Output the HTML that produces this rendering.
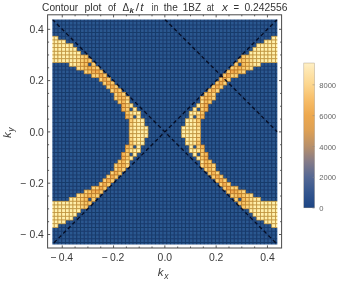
<!DOCTYPE html>
<html><head><meta charset="utf-8"><title>Contour plot</title>
<style>html,body{margin:0;padding:0;background:#fff}body{width:342px;height:283px;overflow:hidden}</style></head>
<body>
<svg width="342" height="283" viewBox="0 0 342 283" style="display:block">
<rect width="342" height="283" fill="#fff"/>
<defs><filter id="bl" x="-2%" y="-2%" width="104%" height="104%"><feGaussianBlur stdDeviation="0.75"/></filter><clipPath id="cp"><rect x="52.35" y="19.4" width="225.00000000000003" height="225.0"/></clipPath></defs>
<g clip-path="url(#cp)"><g filter="url(#bl)">
<rect x="49.35" y="16.4" width="231.00000000000003" height="231.0" fill="#2b5890"/>
<path d="M50.475 16.4V247.4M54.225 16.4V247.4M57.975 16.4V247.4M61.725 16.4V247.4M65.475 16.4V247.4M69.225 16.4V247.4M72.975 16.4V247.4M76.725 16.4V247.4M80.475 16.4V247.4M84.225 16.4V247.4M87.975 16.4V247.4M91.725 16.4V247.4M95.475 16.4V247.4M99.225 16.4V247.4M102.975 16.4V247.4M106.725 16.4V247.4M110.475 16.4V247.4M114.225 16.4V247.4M117.975 16.4V247.4M121.725 16.4V247.4M125.475 16.4V247.4M129.225 16.4V247.4M132.975 16.4V247.4M136.725 16.4V247.4M140.475 16.4V247.4M144.225 16.4V247.4M147.975 16.4V247.4M151.725 16.4V247.4M155.475 16.4V247.4M159.225 16.4V247.4M162.975 16.4V247.4M166.725 16.4V247.4M170.475 16.4V247.4M174.225 16.4V247.4M177.975 16.4V247.4M181.725 16.4V247.4M185.475 16.4V247.4M189.225 16.4V247.4M192.975 16.4V247.4M196.725 16.4V247.4M200.475 16.4V247.4M204.225 16.4V247.4M207.975 16.4V247.4M211.725 16.4V247.4M215.475 16.4V247.4M219.225 16.4V247.4M222.975 16.4V247.4M226.725 16.4V247.4M230.475 16.4V247.4M234.225 16.4V247.4M237.975 16.4V247.4M241.725 16.4V247.4M245.475 16.4V247.4M249.225 16.4V247.4M252.975 16.4V247.4M256.725 16.4V247.4M260.475 16.4V247.4M264.225 16.4V247.4M267.975 16.4V247.4M271.725 16.4V247.4M275.475 16.4V247.4M279.225 16.4V247.4M49.35 17.525H280.35M49.35 21.275H280.35M49.35 25.025H280.35M49.35 28.775H280.35M49.35 32.525H280.35M49.35 36.275H280.35M49.35 40.025H280.35M49.35 43.775H280.35M49.35 47.525H280.35M49.35 51.275H280.35M49.35 55.025H280.35M49.35 58.775H280.35M49.35 62.525H280.35M49.35 66.275H280.35M49.35 70.025H280.35M49.35 73.775H280.35M49.35 77.525H280.35M49.35 81.275H280.35M49.35 85.025H280.35M49.35 88.775H280.35M49.35 92.525H280.35M49.35 96.275H280.35M49.35 100.025H280.35M49.35 103.775H280.35M49.35 107.525H280.35M49.35 111.275H280.35M49.35 115.025H280.35M49.35 118.775H280.35M49.35 122.525H280.35M49.35 126.275H280.35M49.35 130.025H280.35M49.35 133.775H280.35M49.35 137.525H280.35M49.35 141.275H280.35M49.35 145.025H280.35M49.35 148.775H280.35M49.35 152.525H280.35M49.35 156.275H280.35M49.35 160.025H280.35M49.35 163.775H280.35M49.35 167.525H280.35M49.35 171.275H280.35M49.35 175.025H280.35M49.35 178.775H280.35M49.35 182.525H280.35M49.35 186.275H280.35M49.35 190.025H280.35M49.35 193.775H280.35M49.35 197.525H280.35M49.35 201.275H280.35M49.35 205.025H280.35M49.35 208.775H280.35M49.35 212.525H280.35M49.35 216.275H280.35M49.35 220.025H280.35M49.35 223.775H280.35M49.35 227.525H280.35M49.35 231.275H280.35M49.35 235.025H280.35M49.35 238.775H280.35M49.35 242.525H280.35M49.35 246.275H280.35" stroke="#00103a" stroke-opacity="0.42" stroke-width="1.1" fill="none"/>
<rect x="50.475" y="36.275" width="3.75" height="3.75" fill="#fff0ac" stroke="#c2953e" stroke-width="0.75"/>
<rect x="54.225" y="36.275" width="3.75" height="3.75" fill="#fff0ac" stroke="#c2953e" stroke-width="0.75"/>
<rect x="271.725" y="36.275" width="3.75" height="3.75" fill="#fff0ac" stroke="#c2953e" stroke-width="0.75"/>
<rect x="275.475" y="36.275" width="3.75" height="3.75" fill="#fff0ac" stroke="#c2953e" stroke-width="0.75"/>
<rect x="50.475" y="40.025" width="3.75" height="3.75" fill="#fff0ac" stroke="#c2953e" stroke-width="0.75"/>
<rect x="54.225" y="40.025" width="3.75" height="3.75" fill="#fff0ac" stroke="#c2953e" stroke-width="0.75"/>
<rect x="57.975" y="40.025" width="3.75" height="3.75" fill="#fff0ac" stroke="#c2953e" stroke-width="0.75"/>
<rect x="61.725" y="40.025" width="3.75" height="3.75" fill="#fff0ac" stroke="#c2953e" stroke-width="0.75"/>
<rect x="264.225" y="40.025" width="3.75" height="3.75" fill="#fff0ac" stroke="#c2953e" stroke-width="0.75"/>
<rect x="267.975" y="40.025" width="3.75" height="3.75" fill="#fff0ac" stroke="#c2953e" stroke-width="0.75"/>
<rect x="271.725" y="40.025" width="3.75" height="3.75" fill="#fff0ac" stroke="#c2953e" stroke-width="0.75"/>
<rect x="275.475" y="40.025" width="3.75" height="3.75" fill="#fff0ac" stroke="#c2953e" stroke-width="0.75"/>
<rect x="50.475" y="43.775" width="3.75" height="3.75" fill="#fff0ac" stroke="#c2953e" stroke-width="0.75"/>
<rect x="54.225" y="43.775" width="3.75" height="3.75" fill="#fff0ac" stroke="#c2953e" stroke-width="0.75"/>
<rect x="57.975" y="43.775" width="3.75" height="3.75" fill="#fff0ac" stroke="#c2953e" stroke-width="0.75"/>
<rect x="61.725" y="43.775" width="3.75" height="3.75" fill="#fff0ac" stroke="#c2953e" stroke-width="0.75"/>
<rect x="65.475" y="43.775" width="3.75" height="3.75" fill="#fff0ac" stroke="#c2953e" stroke-width="0.75"/>
<rect x="69.225" y="43.775" width="3.75" height="3.75" fill="#fff0ac" stroke="#c2953e" stroke-width="0.75"/>
<rect x="256.725" y="43.775" width="3.75" height="3.75" fill="#fff0ac" stroke="#c2953e" stroke-width="0.75"/>
<rect x="260.475" y="43.775" width="3.75" height="3.75" fill="#fff0ac" stroke="#c2953e" stroke-width="0.75"/>
<rect x="264.225" y="43.775" width="3.75" height="3.75" fill="#fff0ac" stroke="#c2953e" stroke-width="0.75"/>
<rect x="267.975" y="43.775" width="3.75" height="3.75" fill="#fff0ac" stroke="#c2953e" stroke-width="0.75"/>
<rect x="271.725" y="43.775" width="3.75" height="3.75" fill="#fff0ac" stroke="#c2953e" stroke-width="0.75"/>
<rect x="275.475" y="43.775" width="3.75" height="3.75" fill="#fff0ac" stroke="#c2953e" stroke-width="0.75"/>
<rect x="50.475" y="47.525" width="3.75" height="3.75" fill="#fff0ac" stroke="#c2953e" stroke-width="0.75"/>
<rect x="54.225" y="47.525" width="3.75" height="3.75" fill="#fff0ac" stroke="#c2953e" stroke-width="0.75"/>
<rect x="57.975" y="47.525" width="3.75" height="3.75" fill="#fff0ac" stroke="#c2953e" stroke-width="0.75"/>
<rect x="61.725" y="47.525" width="3.75" height="3.75" fill="#fff0ac" stroke="#c2953e" stroke-width="0.75"/>
<rect x="65.475" y="47.525" width="3.75" height="3.75" fill="#fff0ac" stroke="#c2953e" stroke-width="0.75"/>
<rect x="69.225" y="47.525" width="3.75" height="3.75" fill="#fff0ac" stroke="#c2953e" stroke-width="0.75"/>
<rect x="72.975" y="47.525" width="3.75" height="3.75" fill="#fff0ac" stroke="#c2953e" stroke-width="0.75"/>
<rect x="252.975" y="47.525" width="3.75" height="3.75" fill="#fff0ac" stroke="#c2953e" stroke-width="0.75"/>
<rect x="256.725" y="47.525" width="3.75" height="3.75" fill="#fff0ac" stroke="#c2953e" stroke-width="0.75"/>
<rect x="260.475" y="47.525" width="3.75" height="3.75" fill="#fff0ac" stroke="#c2953e" stroke-width="0.75"/>
<rect x="264.225" y="47.525" width="3.75" height="3.75" fill="#fff0ac" stroke="#c2953e" stroke-width="0.75"/>
<rect x="267.975" y="47.525" width="3.75" height="3.75" fill="#fff0ac" stroke="#c2953e" stroke-width="0.75"/>
<rect x="271.725" y="47.525" width="3.75" height="3.75" fill="#fff0ac" stroke="#c2953e" stroke-width="0.75"/>
<rect x="275.475" y="47.525" width="3.75" height="3.75" fill="#fff0ac" stroke="#c2953e" stroke-width="0.75"/>
<rect x="50.475" y="51.275" width="3.75" height="3.75" fill="#fff0ac" stroke="#c2953e" stroke-width="0.75"/>
<rect x="54.225" y="51.275" width="3.75" height="3.75" fill="#fff0ac" stroke="#c2953e" stroke-width="0.75"/>
<rect x="57.975" y="51.275" width="3.75" height="3.75" fill="#fff0ac" stroke="#c2953e" stroke-width="0.75"/>
<rect x="61.725" y="51.275" width="3.75" height="3.75" fill="#fff0ac" stroke="#c2953e" stroke-width="0.75"/>
<rect x="65.475" y="51.275" width="3.75" height="3.75" fill="#fff0ac" stroke="#c2953e" stroke-width="0.75"/>
<rect x="69.225" y="51.275" width="3.75" height="3.75" fill="#fff0ac" stroke="#c2953e" stroke-width="0.75"/>
<rect x="72.975" y="51.275" width="3.75" height="3.75" fill="#fff0ac" stroke="#c2953e" stroke-width="0.75"/>
<rect x="76.725" y="51.275" width="3.75" height="3.75" fill="#fff0ac" stroke="#c2953e" stroke-width="0.75"/>
<rect x="249.225" y="51.275" width="3.75" height="3.75" fill="#fff0ac" stroke="#c2953e" stroke-width="0.75"/>
<rect x="252.975" y="51.275" width="3.75" height="3.75" fill="#fff0ac" stroke="#c2953e" stroke-width="0.75"/>
<rect x="256.725" y="51.275" width="3.75" height="3.75" fill="#fff0ac" stroke="#c2953e" stroke-width="0.75"/>
<rect x="260.475" y="51.275" width="3.75" height="3.75" fill="#fff0ac" stroke="#c2953e" stroke-width="0.75"/>
<rect x="264.225" y="51.275" width="3.75" height="3.75" fill="#fff0ac" stroke="#c2953e" stroke-width="0.75"/>
<rect x="267.975" y="51.275" width="3.75" height="3.75" fill="#fff0ac" stroke="#c2953e" stroke-width="0.75"/>
<rect x="271.725" y="51.275" width="3.75" height="3.75" fill="#fff0ac" stroke="#c2953e" stroke-width="0.75"/>
<rect x="275.475" y="51.275" width="3.75" height="3.75" fill="#fff0ac" stroke="#c2953e" stroke-width="0.75"/>
<rect x="50.475" y="55.025" width="3.75" height="3.75" fill="#fff0ac" stroke="#c2953e" stroke-width="0.75"/>
<rect x="54.225" y="55.025" width="3.75" height="3.75" fill="#fff0ac" stroke="#c2953e" stroke-width="0.75"/>
<rect x="57.975" y="55.025" width="3.75" height="3.75" fill="#fff0ac" stroke="#c2953e" stroke-width="0.75"/>
<rect x="61.725" y="55.025" width="3.75" height="3.75" fill="#fff0ac" stroke="#c2953e" stroke-width="0.75"/>
<rect x="65.475" y="55.025" width="3.75" height="3.75" fill="#fff0ac" stroke="#c2953e" stroke-width="0.75"/>
<rect x="69.225" y="55.025" width="3.75" height="3.75" fill="#fff0ac" stroke="#c2953e" stroke-width="0.75"/>
<rect x="72.975" y="55.025" width="3.75" height="3.75" fill="#fff0ac" stroke="#c2953e" stroke-width="0.75"/>
<rect x="76.725" y="55.025" width="3.75" height="3.75" fill="#fee79c" stroke="#c18f38" stroke-width="0.75"/>
<rect x="80.475" y="55.025" width="3.75" height="3.75" fill="#fcd883" stroke="#c0862f" stroke-width="0.75"/>
<rect x="84.225" y="55.025" width="3.75" height="3.75" fill="#facd72" stroke="#be7f29" stroke-width="0.75"/>
<rect x="241.725" y="55.025" width="3.75" height="3.75" fill="#facd72" stroke="#be7f29" stroke-width="0.75"/>
<rect x="245.475" y="55.025" width="3.75" height="3.75" fill="#fcd883" stroke="#c0862f" stroke-width="0.75"/>
<rect x="249.225" y="55.025" width="3.75" height="3.75" fill="#fee79c" stroke="#c18f38" stroke-width="0.75"/>
<rect x="252.975" y="55.025" width="3.75" height="3.75" fill="#fff0ac" stroke="#c2953e" stroke-width="0.75"/>
<rect x="256.725" y="55.025" width="3.75" height="3.75" fill="#fff0ac" stroke="#c2953e" stroke-width="0.75"/>
<rect x="260.475" y="55.025" width="3.75" height="3.75" fill="#fff0ac" stroke="#c2953e" stroke-width="0.75"/>
<rect x="264.225" y="55.025" width="3.75" height="3.75" fill="#fff0ac" stroke="#c2953e" stroke-width="0.75"/>
<rect x="267.975" y="55.025" width="3.75" height="3.75" fill="#fff0ac" stroke="#c2953e" stroke-width="0.75"/>
<rect x="271.725" y="55.025" width="3.75" height="3.75" fill="#fff0ac" stroke="#c2953e" stroke-width="0.75"/>
<rect x="275.475" y="55.025" width="3.75" height="3.75" fill="#fff0ac" stroke="#c2953e" stroke-width="0.75"/>
<rect x="50.475" y="58.775" width="3.75" height="3.75" fill="#fff0ac" stroke="#c2953e" stroke-width="0.75"/>
<rect x="54.225" y="58.775" width="3.75" height="3.75" fill="#fff0ac" stroke="#c2953e" stroke-width="0.75"/>
<rect x="57.975" y="58.775" width="3.75" height="3.75" fill="#fff0ac" stroke="#c2953e" stroke-width="0.75"/>
<rect x="61.725" y="58.775" width="3.75" height="3.75" fill="#fff0ac" stroke="#c2953e" stroke-width="0.75"/>
<rect x="65.475" y="58.775" width="3.75" height="3.75" fill="#fff0ac" stroke="#c2953e" stroke-width="0.75"/>
<rect x="69.225" y="58.775" width="3.75" height="3.75" fill="#fff0ac" stroke="#c2953e" stroke-width="0.75"/>
<rect x="72.975" y="58.775" width="3.75" height="3.75" fill="#fff0ac" stroke="#c2953e" stroke-width="0.75"/>
<rect x="76.725" y="58.775" width="3.75" height="3.75" fill="#fee396" stroke="#c18d36" stroke-width="0.75"/>
<rect x="80.475" y="58.775" width="3.75" height="3.75" fill="#fad178" stroke="#be822b" stroke-width="0.75"/>
<rect x="84.225" y="58.775" width="3.75" height="3.75" fill="#f8c669" stroke="#bc7b26" stroke-width="0.75"/>
<rect x="87.975" y="58.775" width="3.75" height="3.75" fill="#facd72" stroke="#be7f29" stroke-width="0.75"/>
<rect x="237.975" y="58.775" width="3.75" height="3.75" fill="#facd72" stroke="#be7f29" stroke-width="0.75"/>
<rect x="241.725" y="58.775" width="3.75" height="3.75" fill="#f8c669" stroke="#bc7b26" stroke-width="0.75"/>
<rect x="245.475" y="58.775" width="3.75" height="3.75" fill="#fad178" stroke="#be822b" stroke-width="0.75"/>
<rect x="249.225" y="58.775" width="3.75" height="3.75" fill="#fee396" stroke="#c18d36" stroke-width="0.75"/>
<rect x="252.975" y="58.775" width="3.75" height="3.75" fill="#fff0ac" stroke="#c2953e" stroke-width="0.75"/>
<rect x="256.725" y="58.775" width="3.75" height="3.75" fill="#fff0ac" stroke="#c2953e" stroke-width="0.75"/>
<rect x="260.475" y="58.775" width="3.75" height="3.75" fill="#fff0ac" stroke="#c2953e" stroke-width="0.75"/>
<rect x="264.225" y="58.775" width="3.75" height="3.75" fill="#fff0ac" stroke="#c2953e" stroke-width="0.75"/>
<rect x="267.975" y="58.775" width="3.75" height="3.75" fill="#fff0ac" stroke="#c2953e" stroke-width="0.75"/>
<rect x="271.725" y="58.775" width="3.75" height="3.75" fill="#fff0ac" stroke="#c2953e" stroke-width="0.75"/>
<rect x="275.475" y="58.775" width="3.75" height="3.75" fill="#fff0ac" stroke="#c2953e" stroke-width="0.75"/>
<rect x="69.225" y="62.525" width="3.75" height="3.75" fill="#ffeda7" stroke="#c2933c" stroke-width="0.75"/>
<rect x="72.975" y="62.525" width="3.75" height="3.75" fill="#ffeca4" stroke="#c2923b" stroke-width="0.75"/>
<rect x="76.725" y="62.525" width="3.75" height="3.75" fill="#fddf90" stroke="#c08a34" stroke-width="0.75"/>
<rect x="80.475" y="62.525" width="3.75" height="3.75" fill="#facd72" stroke="#be7f29" stroke-width="0.75"/>
<rect x="84.225" y="62.525" width="3.75" height="3.75" fill="#f7c264" stroke="#bc7824" stroke-width="0.75"/>
<rect x="91.725" y="62.525" width="3.75" height="3.75" fill="#fad178" stroke="#be822b" stroke-width="0.75"/>
<rect x="234.225" y="62.525" width="3.75" height="3.75" fill="#fad178" stroke="#be822b" stroke-width="0.75"/>
<rect x="241.725" y="62.525" width="3.75" height="3.75" fill="#f7c264" stroke="#bc7824" stroke-width="0.75"/>
<rect x="245.475" y="62.525" width="3.75" height="3.75" fill="#facd72" stroke="#be7f29" stroke-width="0.75"/>
<rect x="249.225" y="62.525" width="3.75" height="3.75" fill="#fddf90" stroke="#c08a34" stroke-width="0.75"/>
<rect x="252.975" y="62.525" width="3.75" height="3.75" fill="#ffeca4" stroke="#c2923b" stroke-width="0.75"/>
<rect x="256.725" y="62.525" width="3.75" height="3.75" fill="#ffeda7" stroke="#c2933c" stroke-width="0.75"/>
<rect x="76.725" y="66.275" width="3.75" height="3.75" fill="#fee396" stroke="#c18d36" stroke-width="0.75"/>
<rect x="80.475" y="66.275" width="3.75" height="3.75" fill="#fbd47d" stroke="#bf832d" stroke-width="0.75"/>
<rect x="84.225" y="66.275" width="3.75" height="3.75" fill="#f9ca6d" stroke="#bd7d27" stroke-width="0.75"/>
<rect x="87.975" y="66.275" width="3.75" height="3.75" fill="#f5b95c" stroke="#ba7321" stroke-width="0.75"/>
<rect x="91.725" y="66.275" width="3.75" height="3.75" fill="#f8c669" stroke="#bc7b26" stroke-width="0.75"/>
<rect x="95.475" y="66.275" width="3.75" height="3.75" fill="#fad178" stroke="#be822b" stroke-width="0.75"/>
<rect x="230.475" y="66.275" width="3.75" height="3.75" fill="#fad178" stroke="#be822b" stroke-width="0.75"/>
<rect x="234.225" y="66.275" width="3.75" height="3.75" fill="#f8c669" stroke="#bc7b26" stroke-width="0.75"/>
<rect x="237.975" y="66.275" width="3.75" height="3.75" fill="#f5b95c" stroke="#ba7321" stroke-width="0.75"/>
<rect x="241.725" y="66.275" width="3.75" height="3.75" fill="#f9ca6d" stroke="#bd7d27" stroke-width="0.75"/>
<rect x="245.475" y="66.275" width="3.75" height="3.75" fill="#fbd47d" stroke="#bf832d" stroke-width="0.75"/>
<rect x="249.225" y="66.275" width="3.75" height="3.75" fill="#fee396" stroke="#c18d36" stroke-width="0.75"/>
<rect x="84.225" y="70.025" width="3.75" height="3.75" fill="#fcd883" stroke="#c0862f" stroke-width="0.75"/>
<rect x="87.975" y="70.025" width="3.75" height="3.75" fill="#f9ca6d" stroke="#bd7d27" stroke-width="0.75"/>
<rect x="91.725" y="70.025" width="3.75" height="3.75" fill="#f4b558" stroke="#b97020" stroke-width="0.75"/>
<rect x="95.475" y="70.025" width="3.75" height="3.75" fill="#f3ae52" stroke="#b96c1e" stroke-width="0.75"/>
<rect x="99.225" y="70.025" width="3.75" height="3.75" fill="#facd72" stroke="#be7f29" stroke-width="0.75"/>
<rect x="226.725" y="70.025" width="3.75" height="3.75" fill="#facd72" stroke="#be7f29" stroke-width="0.75"/>
<rect x="230.475" y="70.025" width="3.75" height="3.75" fill="#f3ae52" stroke="#b96c1e" stroke-width="0.75"/>
<rect x="234.225" y="70.025" width="3.75" height="3.75" fill="#f4b558" stroke="#b97020" stroke-width="0.75"/>
<rect x="237.975" y="70.025" width="3.75" height="3.75" fill="#f9ca6d" stroke="#bd7d27" stroke-width="0.75"/>
<rect x="241.725" y="70.025" width="3.75" height="3.75" fill="#fcd883" stroke="#c0862f" stroke-width="0.75"/>
<rect x="91.725" y="73.775" width="3.75" height="3.75" fill="#fbd47d" stroke="#bf832d" stroke-width="0.75"/>
<rect x="95.475" y="73.775" width="3.75" height="3.75" fill="#fbd47d" stroke="#bf832d" stroke-width="0.75"/>
<rect x="99.225" y="73.775" width="3.75" height="3.75" fill="#f2ac50" stroke="#b86b1d" stroke-width="0.75"/>
<rect x="102.975" y="73.775" width="3.75" height="3.75" fill="#facd72" stroke="#be7f29" stroke-width="0.75"/>
<rect x="222.975" y="73.775" width="3.75" height="3.75" fill="#facd72" stroke="#be7f29" stroke-width="0.75"/>
<rect x="226.725" y="73.775" width="3.75" height="3.75" fill="#f2ac50" stroke="#b86b1d" stroke-width="0.75"/>
<rect x="230.475" y="73.775" width="3.75" height="3.75" fill="#fbd47d" stroke="#bf832d" stroke-width="0.75"/>
<rect x="234.225" y="73.775" width="3.75" height="3.75" fill="#fbd47d" stroke="#bf832d" stroke-width="0.75"/>
<rect x="99.225" y="77.525" width="3.75" height="3.75" fill="#fbd47d" stroke="#bf832d" stroke-width="0.75"/>
<rect x="102.975" y="77.525" width="3.75" height="3.75" fill="#f3b054" stroke="#b96d1e" stroke-width="0.75"/>
<rect x="106.725" y="77.525" width="3.75" height="3.75" fill="#facd72" stroke="#be7f29" stroke-width="0.75"/>
<rect x="219.225" y="77.525" width="3.75" height="3.75" fill="#facd72" stroke="#be7f29" stroke-width="0.75"/>
<rect x="222.975" y="77.525" width="3.75" height="3.75" fill="#f3b054" stroke="#b96d1e" stroke-width="0.75"/>
<rect x="226.725" y="77.525" width="3.75" height="3.75" fill="#fbd47d" stroke="#bf832d" stroke-width="0.75"/>
<rect x="102.975" y="81.275" width="3.75" height="3.75" fill="#fbd47d" stroke="#bf832d" stroke-width="0.75"/>
<rect x="106.725" y="81.275" width="3.75" height="3.75" fill="#f3b054" stroke="#b96d1e" stroke-width="0.75"/>
<rect x="110.475" y="81.275" width="3.75" height="3.75" fill="#facd72" stroke="#be7f29" stroke-width="0.75"/>
<rect x="215.475" y="81.275" width="3.75" height="3.75" fill="#facd72" stroke="#be7f29" stroke-width="0.75"/>
<rect x="219.225" y="81.275" width="3.75" height="3.75" fill="#f3b054" stroke="#b96d1e" stroke-width="0.75"/>
<rect x="222.975" y="81.275" width="3.75" height="3.75" fill="#fbd47d" stroke="#bf832d" stroke-width="0.75"/>
<rect x="106.725" y="85.025" width="3.75" height="3.75" fill="#fbd47d" stroke="#bf832d" stroke-width="0.75"/>
<rect x="110.475" y="85.025" width="3.75" height="3.75" fill="#f4b256" stroke="#b96e1f" stroke-width="0.75"/>
<rect x="114.225" y="85.025" width="3.75" height="3.75" fill="#facf75" stroke="#be802a" stroke-width="0.75"/>
<rect x="211.725" y="85.025" width="3.75" height="3.75" fill="#facf75" stroke="#be802a" stroke-width="0.75"/>
<rect x="215.475" y="85.025" width="3.75" height="3.75" fill="#f4b256" stroke="#b96e1f" stroke-width="0.75"/>
<rect x="219.225" y="85.025" width="3.75" height="3.75" fill="#fbd47d" stroke="#bf832d" stroke-width="0.75"/>
<rect x="110.475" y="88.775" width="3.75" height="3.75" fill="#fbd680" stroke="#bf852e" stroke-width="0.75"/>
<rect x="114.225" y="88.775" width="3.75" height="3.75" fill="#f5b75a" stroke="#ba7120" stroke-width="0.75"/>
<rect x="117.975" y="88.775" width="3.75" height="3.75" fill="#fad178" stroke="#be822b" stroke-width="0.75"/>
<rect x="207.975" y="88.775" width="3.75" height="3.75" fill="#fad178" stroke="#be822b" stroke-width="0.75"/>
<rect x="211.725" y="88.775" width="3.75" height="3.75" fill="#f5b75a" stroke="#ba7120" stroke-width="0.75"/>
<rect x="215.475" y="88.775" width="3.75" height="3.75" fill="#fbd680" stroke="#bf852e" stroke-width="0.75"/>
<rect x="114.225" y="92.525" width="3.75" height="3.75" fill="#fcd883" stroke="#c0862f" stroke-width="0.75"/>
<rect x="117.975" y="92.525" width="3.75" height="3.75" fill="#f6be60" stroke="#bb7623" stroke-width="0.75"/>
<rect x="121.725" y="92.525" width="3.75" height="3.75" fill="#fbd47d" stroke="#bf832d" stroke-width="0.75"/>
<rect x="204.225" y="92.525" width="3.75" height="3.75" fill="#fbd47d" stroke="#bf832d" stroke-width="0.75"/>
<rect x="207.975" y="92.525" width="3.75" height="3.75" fill="#f6be60" stroke="#bb7623" stroke-width="0.75"/>
<rect x="211.725" y="92.525" width="3.75" height="3.75" fill="#fcd883" stroke="#c0862f" stroke-width="0.75"/>
<rect x="114.225" y="96.275" width="3.75" height="3.75" fill="#fbd680" stroke="#bf852e" stroke-width="0.75"/>
<rect x="117.975" y="96.275" width="3.75" height="3.75" fill="#f8c466" stroke="#bc7a25" stroke-width="0.75"/>
<rect x="121.725" y="96.275" width="3.75" height="3.75" fill="#f6bc5e" stroke="#bb7522" stroke-width="0.75"/>
<rect x="125.475" y="96.275" width="3.75" height="3.75" fill="#fcd884" stroke="#c08630" stroke-width="0.75"/>
<rect x="200.475" y="96.275" width="3.75" height="3.75" fill="#fcd884" stroke="#c08630" stroke-width="0.75"/>
<rect x="204.225" y="96.275" width="3.75" height="3.75" fill="#f6bc5e" stroke="#bb7522" stroke-width="0.75"/>
<rect x="207.975" y="96.275" width="3.75" height="3.75" fill="#f8c466" stroke="#bc7a25" stroke-width="0.75"/>
<rect x="211.725" y="96.275" width="3.75" height="3.75" fill="#fbd680" stroke="#bf852e" stroke-width="0.75"/>
<rect x="117.975" y="100.025" width="3.75" height="3.75" fill="#fad076" stroke="#be812a" stroke-width="0.75"/>
<rect x="121.725" y="100.025" width="3.75" height="3.75" fill="#f7bf61" stroke="#bc7623" stroke-width="0.75"/>
<rect x="125.475" y="100.025" width="3.75" height="3.75" fill="#fee497" stroke="#c18d36" stroke-width="0.75"/>
<rect x="200.475" y="100.025" width="3.75" height="3.75" fill="#fee497" stroke="#c18d36" stroke-width="0.75"/>
<rect x="204.225" y="100.025" width="3.75" height="3.75" fill="#f7bf61" stroke="#bc7623" stroke-width="0.75"/>
<rect x="207.975" y="100.025" width="3.75" height="3.75" fill="#fad076" stroke="#be812a" stroke-width="0.75"/>
<rect x="121.725" y="103.775" width="3.75" height="3.75" fill="#f5b659" stroke="#ba7120" stroke-width="0.75"/>
<rect x="125.475" y="103.775" width="3.75" height="3.75" fill="#facd72" stroke="#be7f29" stroke-width="0.75"/>
<rect x="129.225" y="103.775" width="3.75" height="3.75" fill="#ffeda5" stroke="#c2933b" stroke-width="0.75"/>
<rect x="196.725" y="103.775" width="3.75" height="3.75" fill="#ffeda5" stroke="#c2933b" stroke-width="0.75"/>
<rect x="200.475" y="103.775" width="3.75" height="3.75" fill="#facd72" stroke="#be7f29" stroke-width="0.75"/>
<rect x="204.225" y="103.775" width="3.75" height="3.75" fill="#f5b659" stroke="#ba7120" stroke-width="0.75"/>
<rect x="121.725" y="107.525" width="3.75" height="3.75" fill="#f5b95c" stroke="#ba7321" stroke-width="0.75"/>
<rect x="125.475" y="107.525" width="3.75" height="3.75" fill="#fad076" stroke="#be812a" stroke-width="0.75"/>
<rect x="132.975" y="107.525" width="3.75" height="3.75" fill="#ffeea9" stroke="#c2943d" stroke-width="0.75"/>
<rect x="192.975" y="107.525" width="3.75" height="3.75" fill="#ffeea9" stroke="#c2943d" stroke-width="0.75"/>
<rect x="200.475" y="107.525" width="3.75" height="3.75" fill="#fad076" stroke="#be812a" stroke-width="0.75"/>
<rect x="204.225" y="107.525" width="3.75" height="3.75" fill="#f5b95c" stroke="#ba7321" stroke-width="0.75"/>
<rect x="125.475" y="111.275" width="3.75" height="3.75" fill="#f9c96c" stroke="#bd7d27" stroke-width="0.75"/>
<rect x="129.225" y="111.275" width="3.75" height="3.75" fill="#fee69b" stroke="#c18f38" stroke-width="0.75"/>
<rect x="132.975" y="111.275" width="3.75" height="3.75" fill="#ffeea9" stroke="#c2943d" stroke-width="0.75"/>
<rect x="136.725" y="111.275" width="3.75" height="3.75" fill="#fff0ac" stroke="#c2953e" stroke-width="0.75"/>
<rect x="189.225" y="111.275" width="3.75" height="3.75" fill="#fff0ac" stroke="#c2953e" stroke-width="0.75"/>
<rect x="192.975" y="111.275" width="3.75" height="3.75" fill="#ffeea9" stroke="#c2943d" stroke-width="0.75"/>
<rect x="196.725" y="111.275" width="3.75" height="3.75" fill="#fee69b" stroke="#c18f38" stroke-width="0.75"/>
<rect x="200.475" y="111.275" width="3.75" height="3.75" fill="#f9c96c" stroke="#bd7d27" stroke-width="0.75"/>
<rect x="125.475" y="115.025" width="3.75" height="3.75" fill="#f6bc5e" stroke="#bb7522" stroke-width="0.75"/>
<rect x="129.225" y="115.025" width="3.75" height="3.75" fill="#fcd884" stroke="#c08630" stroke-width="0.75"/>
<rect x="136.725" y="115.025" width="3.75" height="3.75" fill="#fff0ac" stroke="#c2953e" stroke-width="0.75"/>
<rect x="189.225" y="115.025" width="3.75" height="3.75" fill="#fff0ac" stroke="#c2953e" stroke-width="0.75"/>
<rect x="196.725" y="115.025" width="3.75" height="3.75" fill="#fcd884" stroke="#c08630" stroke-width="0.75"/>
<rect x="200.475" y="115.025" width="3.75" height="3.75" fill="#f6bc5e" stroke="#bb7522" stroke-width="0.75"/>
<rect x="129.225" y="118.775" width="3.75" height="3.75" fill="#facd72" stroke="#be7f29" stroke-width="0.75"/>
<rect x="132.975" y="118.775" width="3.75" height="3.75" fill="#ffe99e" stroke="#c29039" stroke-width="0.75"/>
<rect x="136.725" y="118.775" width="3.75" height="3.75" fill="#fff0ac" stroke="#c2953e" stroke-width="0.75"/>
<rect x="140.475" y="118.775" width="3.75" height="3.75" fill="#fff0ac" stroke="#c2953e" stroke-width="0.75"/>
<rect x="185.475" y="118.775" width="3.75" height="3.75" fill="#fff0ac" stroke="#c2953e" stroke-width="0.75"/>
<rect x="189.225" y="118.775" width="3.75" height="3.75" fill="#fff0ac" stroke="#c2953e" stroke-width="0.75"/>
<rect x="192.975" y="118.775" width="3.75" height="3.75" fill="#ffe99e" stroke="#c29039" stroke-width="0.75"/>
<rect x="196.725" y="118.775" width="3.75" height="3.75" fill="#facd72" stroke="#be7f29" stroke-width="0.75"/>
<rect x="129.225" y="122.525" width="3.75" height="3.75" fill="#fcd884" stroke="#c08630" stroke-width="0.75"/>
<rect x="132.975" y="122.525" width="3.75" height="3.75" fill="#fff0ac" stroke="#c2953e" stroke-width="0.75"/>
<rect x="136.725" y="122.525" width="3.75" height="3.75" fill="#fff0ac" stroke="#c2953e" stroke-width="0.75"/>
<rect x="140.475" y="122.525" width="3.75" height="3.75" fill="#fff0ac" stroke="#c2953e" stroke-width="0.75"/>
<rect x="185.475" y="122.525" width="3.75" height="3.75" fill="#fff0ac" stroke="#c2953e" stroke-width="0.75"/>
<rect x="189.225" y="122.525" width="3.75" height="3.75" fill="#fff0ac" stroke="#c2953e" stroke-width="0.75"/>
<rect x="192.975" y="122.525" width="3.75" height="3.75" fill="#fff0ac" stroke="#c2953e" stroke-width="0.75"/>
<rect x="196.725" y="122.525" width="3.75" height="3.75" fill="#fcd884" stroke="#c08630" stroke-width="0.75"/>
<rect x="129.225" y="126.275" width="3.75" height="3.75" fill="#fde194" stroke="#c08c35" stroke-width="0.75"/>
<rect x="132.975" y="126.275" width="3.75" height="3.75" fill="#fff0ac" stroke="#c2953e" stroke-width="0.75"/>
<rect x="136.725" y="126.275" width="3.75" height="3.75" fill="#fff0ac" stroke="#c2953e" stroke-width="0.75"/>
<rect x="140.475" y="126.275" width="3.75" height="3.75" fill="#fff0ac" stroke="#c2953e" stroke-width="0.75"/>
<rect x="144.225" y="126.275" width="3.75" height="3.75" fill="#fff0ac" stroke="#c2953e" stroke-width="0.75"/>
<rect x="181.725" y="126.275" width="3.75" height="3.75" fill="#fff0ac" stroke="#c2953e" stroke-width="0.75"/>
<rect x="185.475" y="126.275" width="3.75" height="3.75" fill="#fff0ac" stroke="#c2953e" stroke-width="0.75"/>
<rect x="189.225" y="126.275" width="3.75" height="3.75" fill="#fff0ac" stroke="#c2953e" stroke-width="0.75"/>
<rect x="192.975" y="126.275" width="3.75" height="3.75" fill="#fff0ac" stroke="#c2953e" stroke-width="0.75"/>
<rect x="196.725" y="126.275" width="3.75" height="3.75" fill="#fde194" stroke="#c08c35" stroke-width="0.75"/>
<rect x="129.225" y="130.025" width="3.75" height="3.75" fill="#fee69b" stroke="#c18f38" stroke-width="0.75"/>
<rect x="132.975" y="130.025" width="3.75" height="3.75" fill="#fff0ac" stroke="#c2953e" stroke-width="0.75"/>
<rect x="136.725" y="130.025" width="3.75" height="3.75" fill="#fff0ac" stroke="#c2953e" stroke-width="0.75"/>
<rect x="140.475" y="130.025" width="3.75" height="3.75" fill="#fff0ac" stroke="#c2953e" stroke-width="0.75"/>
<rect x="144.225" y="130.025" width="3.75" height="3.75" fill="#fff0ac" stroke="#c2953e" stroke-width="0.75"/>
<rect x="181.725" y="130.025" width="3.75" height="3.75" fill="#fff0ac" stroke="#c2953e" stroke-width="0.75"/>
<rect x="185.475" y="130.025" width="3.75" height="3.75" fill="#fff0ac" stroke="#c2953e" stroke-width="0.75"/>
<rect x="189.225" y="130.025" width="3.75" height="3.75" fill="#fff0ac" stroke="#c2953e" stroke-width="0.75"/>
<rect x="192.975" y="130.025" width="3.75" height="3.75" fill="#fff0ac" stroke="#c2953e" stroke-width="0.75"/>
<rect x="196.725" y="130.025" width="3.75" height="3.75" fill="#fee69b" stroke="#c18f38" stroke-width="0.75"/>
<rect x="129.225" y="133.775" width="3.75" height="3.75" fill="#fde194" stroke="#c08c35" stroke-width="0.75"/>
<rect x="132.975" y="133.775" width="3.75" height="3.75" fill="#fff0ac" stroke="#c2953e" stroke-width="0.75"/>
<rect x="136.725" y="133.775" width="3.75" height="3.75" fill="#fff0ac" stroke="#c2953e" stroke-width="0.75"/>
<rect x="140.475" y="133.775" width="3.75" height="3.75" fill="#fff0ac" stroke="#c2953e" stroke-width="0.75"/>
<rect x="144.225" y="133.775" width="3.75" height="3.75" fill="#fff0ac" stroke="#c2953e" stroke-width="0.75"/>
<rect x="181.725" y="133.775" width="3.75" height="3.75" fill="#fff0ac" stroke="#c2953e" stroke-width="0.75"/>
<rect x="185.475" y="133.775" width="3.75" height="3.75" fill="#fff0ac" stroke="#c2953e" stroke-width="0.75"/>
<rect x="189.225" y="133.775" width="3.75" height="3.75" fill="#fff0ac" stroke="#c2953e" stroke-width="0.75"/>
<rect x="192.975" y="133.775" width="3.75" height="3.75" fill="#fff0ac" stroke="#c2953e" stroke-width="0.75"/>
<rect x="196.725" y="133.775" width="3.75" height="3.75" fill="#fde194" stroke="#c08c35" stroke-width="0.75"/>
<rect x="129.225" y="137.525" width="3.75" height="3.75" fill="#fcd884" stroke="#c08630" stroke-width="0.75"/>
<rect x="132.975" y="137.525" width="3.75" height="3.75" fill="#fff0ac" stroke="#c2953e" stroke-width="0.75"/>
<rect x="136.725" y="137.525" width="3.75" height="3.75" fill="#fff0ac" stroke="#c2953e" stroke-width="0.75"/>
<rect x="140.475" y="137.525" width="3.75" height="3.75" fill="#fff0ac" stroke="#c2953e" stroke-width="0.75"/>
<rect x="185.475" y="137.525" width="3.75" height="3.75" fill="#fff0ac" stroke="#c2953e" stroke-width="0.75"/>
<rect x="189.225" y="137.525" width="3.75" height="3.75" fill="#fff0ac" stroke="#c2953e" stroke-width="0.75"/>
<rect x="192.975" y="137.525" width="3.75" height="3.75" fill="#fff0ac" stroke="#c2953e" stroke-width="0.75"/>
<rect x="196.725" y="137.525" width="3.75" height="3.75" fill="#fcd884" stroke="#c08630" stroke-width="0.75"/>
<rect x="129.225" y="141.275" width="3.75" height="3.75" fill="#facd72" stroke="#be7f29" stroke-width="0.75"/>
<rect x="132.975" y="141.275" width="3.75" height="3.75" fill="#ffe99e" stroke="#c29039" stroke-width="0.75"/>
<rect x="136.725" y="141.275" width="3.75" height="3.75" fill="#fff0ac" stroke="#c2953e" stroke-width="0.75"/>
<rect x="140.475" y="141.275" width="3.75" height="3.75" fill="#fff0ac" stroke="#c2953e" stroke-width="0.75"/>
<rect x="185.475" y="141.275" width="3.75" height="3.75" fill="#fff0ac" stroke="#c2953e" stroke-width="0.75"/>
<rect x="189.225" y="141.275" width="3.75" height="3.75" fill="#fff0ac" stroke="#c2953e" stroke-width="0.75"/>
<rect x="192.975" y="141.275" width="3.75" height="3.75" fill="#ffe99e" stroke="#c29039" stroke-width="0.75"/>
<rect x="196.725" y="141.275" width="3.75" height="3.75" fill="#facd72" stroke="#be7f29" stroke-width="0.75"/>
<rect x="125.475" y="145.025" width="3.75" height="3.75" fill="#f6bc5e" stroke="#bb7522" stroke-width="0.75"/>
<rect x="129.225" y="145.025" width="3.75" height="3.75" fill="#fcd884" stroke="#c08630" stroke-width="0.75"/>
<rect x="136.725" y="145.025" width="3.75" height="3.75" fill="#fff0ac" stroke="#c2953e" stroke-width="0.75"/>
<rect x="189.225" y="145.025" width="3.75" height="3.75" fill="#fff0ac" stroke="#c2953e" stroke-width="0.75"/>
<rect x="196.725" y="145.025" width="3.75" height="3.75" fill="#fcd884" stroke="#c08630" stroke-width="0.75"/>
<rect x="200.475" y="145.025" width="3.75" height="3.75" fill="#f6bc5e" stroke="#bb7522" stroke-width="0.75"/>
<rect x="125.475" y="148.775" width="3.75" height="3.75" fill="#f9c96c" stroke="#bd7d27" stroke-width="0.75"/>
<rect x="129.225" y="148.775" width="3.75" height="3.75" fill="#fee69b" stroke="#c18f38" stroke-width="0.75"/>
<rect x="132.975" y="148.775" width="3.75" height="3.75" fill="#ffeea9" stroke="#c2943d" stroke-width="0.75"/>
<rect x="136.725" y="148.775" width="3.75" height="3.75" fill="#fff0ac" stroke="#c2953e" stroke-width="0.75"/>
<rect x="189.225" y="148.775" width="3.75" height="3.75" fill="#fff0ac" stroke="#c2953e" stroke-width="0.75"/>
<rect x="192.975" y="148.775" width="3.75" height="3.75" fill="#ffeea9" stroke="#c2943d" stroke-width="0.75"/>
<rect x="196.725" y="148.775" width="3.75" height="3.75" fill="#fee69b" stroke="#c18f38" stroke-width="0.75"/>
<rect x="200.475" y="148.775" width="3.75" height="3.75" fill="#f9c96c" stroke="#bd7d27" stroke-width="0.75"/>
<rect x="121.725" y="152.525" width="3.75" height="3.75" fill="#f5b95c" stroke="#ba7321" stroke-width="0.75"/>
<rect x="125.475" y="152.525" width="3.75" height="3.75" fill="#fad076" stroke="#be812a" stroke-width="0.75"/>
<rect x="132.975" y="152.525" width="3.75" height="3.75" fill="#ffeea9" stroke="#c2943d" stroke-width="0.75"/>
<rect x="192.975" y="152.525" width="3.75" height="3.75" fill="#ffeea9" stroke="#c2943d" stroke-width="0.75"/>
<rect x="200.475" y="152.525" width="3.75" height="3.75" fill="#fad076" stroke="#be812a" stroke-width="0.75"/>
<rect x="204.225" y="152.525" width="3.75" height="3.75" fill="#f5b95c" stroke="#ba7321" stroke-width="0.75"/>
<rect x="121.725" y="156.275" width="3.75" height="3.75" fill="#f5b659" stroke="#ba7120" stroke-width="0.75"/>
<rect x="125.475" y="156.275" width="3.75" height="3.75" fill="#facd72" stroke="#be7f29" stroke-width="0.75"/>
<rect x="129.225" y="156.275" width="3.75" height="3.75" fill="#ffeda5" stroke="#c2933b" stroke-width="0.75"/>
<rect x="196.725" y="156.275" width="3.75" height="3.75" fill="#ffeda5" stroke="#c2933b" stroke-width="0.75"/>
<rect x="200.475" y="156.275" width="3.75" height="3.75" fill="#facd72" stroke="#be7f29" stroke-width="0.75"/>
<rect x="204.225" y="156.275" width="3.75" height="3.75" fill="#f5b659" stroke="#ba7120" stroke-width="0.75"/>
<rect x="117.975" y="160.025" width="3.75" height="3.75" fill="#fad076" stroke="#be812a" stroke-width="0.75"/>
<rect x="121.725" y="160.025" width="3.75" height="3.75" fill="#f7bf61" stroke="#bc7623" stroke-width="0.75"/>
<rect x="125.475" y="160.025" width="3.75" height="3.75" fill="#fee497" stroke="#c18d36" stroke-width="0.75"/>
<rect x="200.475" y="160.025" width="3.75" height="3.75" fill="#fee497" stroke="#c18d36" stroke-width="0.75"/>
<rect x="204.225" y="160.025" width="3.75" height="3.75" fill="#f7bf61" stroke="#bc7623" stroke-width="0.75"/>
<rect x="207.975" y="160.025" width="3.75" height="3.75" fill="#fad076" stroke="#be812a" stroke-width="0.75"/>
<rect x="114.225" y="163.775" width="3.75" height="3.75" fill="#fbd680" stroke="#bf852e" stroke-width="0.75"/>
<rect x="117.975" y="163.775" width="3.75" height="3.75" fill="#f8c466" stroke="#bc7a25" stroke-width="0.75"/>
<rect x="121.725" y="163.775" width="3.75" height="3.75" fill="#f6bc5e" stroke="#bb7522" stroke-width="0.75"/>
<rect x="125.475" y="163.775" width="3.75" height="3.75" fill="#fcd884" stroke="#c08630" stroke-width="0.75"/>
<rect x="200.475" y="163.775" width="3.75" height="3.75" fill="#fcd884" stroke="#c08630" stroke-width="0.75"/>
<rect x="204.225" y="163.775" width="3.75" height="3.75" fill="#f6bc5e" stroke="#bb7522" stroke-width="0.75"/>
<rect x="207.975" y="163.775" width="3.75" height="3.75" fill="#f8c466" stroke="#bc7a25" stroke-width="0.75"/>
<rect x="211.725" y="163.775" width="3.75" height="3.75" fill="#fbd680" stroke="#bf852e" stroke-width="0.75"/>
<rect x="114.225" y="167.525" width="3.75" height="3.75" fill="#fcd883" stroke="#c0862f" stroke-width="0.75"/>
<rect x="117.975" y="167.525" width="3.75" height="3.75" fill="#f6be60" stroke="#bb7623" stroke-width="0.75"/>
<rect x="121.725" y="167.525" width="3.75" height="3.75" fill="#fbd47d" stroke="#bf832d" stroke-width="0.75"/>
<rect x="204.225" y="167.525" width="3.75" height="3.75" fill="#fbd47d" stroke="#bf832d" stroke-width="0.75"/>
<rect x="207.975" y="167.525" width="3.75" height="3.75" fill="#f6be60" stroke="#bb7623" stroke-width="0.75"/>
<rect x="211.725" y="167.525" width="3.75" height="3.75" fill="#fcd883" stroke="#c0862f" stroke-width="0.75"/>
<rect x="110.475" y="171.275" width="3.75" height="3.75" fill="#fbd680" stroke="#bf852e" stroke-width="0.75"/>
<rect x="114.225" y="171.275" width="3.75" height="3.75" fill="#f5b75a" stroke="#ba7120" stroke-width="0.75"/>
<rect x="117.975" y="171.275" width="3.75" height="3.75" fill="#fad178" stroke="#be822b" stroke-width="0.75"/>
<rect x="207.975" y="171.275" width="3.75" height="3.75" fill="#fad178" stroke="#be822b" stroke-width="0.75"/>
<rect x="211.725" y="171.275" width="3.75" height="3.75" fill="#f5b75a" stroke="#ba7120" stroke-width="0.75"/>
<rect x="215.475" y="171.275" width="3.75" height="3.75" fill="#fbd680" stroke="#bf852e" stroke-width="0.75"/>
<rect x="106.725" y="175.025" width="3.75" height="3.75" fill="#fbd47d" stroke="#bf832d" stroke-width="0.75"/>
<rect x="110.475" y="175.025" width="3.75" height="3.75" fill="#f4b256" stroke="#b96e1f" stroke-width="0.75"/>
<rect x="114.225" y="175.025" width="3.75" height="3.75" fill="#facf75" stroke="#be802a" stroke-width="0.75"/>
<rect x="211.725" y="175.025" width="3.75" height="3.75" fill="#facf75" stroke="#be802a" stroke-width="0.75"/>
<rect x="215.475" y="175.025" width="3.75" height="3.75" fill="#f4b256" stroke="#b96e1f" stroke-width="0.75"/>
<rect x="219.225" y="175.025" width="3.75" height="3.75" fill="#fbd47d" stroke="#bf832d" stroke-width="0.75"/>
<rect x="102.975" y="178.775" width="3.75" height="3.75" fill="#fbd47d" stroke="#bf832d" stroke-width="0.75"/>
<rect x="106.725" y="178.775" width="3.75" height="3.75" fill="#f3b054" stroke="#b96d1e" stroke-width="0.75"/>
<rect x="110.475" y="178.775" width="3.75" height="3.75" fill="#facd72" stroke="#be7f29" stroke-width="0.75"/>
<rect x="215.475" y="178.775" width="3.75" height="3.75" fill="#facd72" stroke="#be7f29" stroke-width="0.75"/>
<rect x="219.225" y="178.775" width="3.75" height="3.75" fill="#f3b054" stroke="#b96d1e" stroke-width="0.75"/>
<rect x="222.975" y="178.775" width="3.75" height="3.75" fill="#fbd47d" stroke="#bf832d" stroke-width="0.75"/>
<rect x="99.225" y="182.525" width="3.75" height="3.75" fill="#fbd47d" stroke="#bf832d" stroke-width="0.75"/>
<rect x="102.975" y="182.525" width="3.75" height="3.75" fill="#f3b054" stroke="#b96d1e" stroke-width="0.75"/>
<rect x="106.725" y="182.525" width="3.75" height="3.75" fill="#facd72" stroke="#be7f29" stroke-width="0.75"/>
<rect x="219.225" y="182.525" width="3.75" height="3.75" fill="#facd72" stroke="#be7f29" stroke-width="0.75"/>
<rect x="222.975" y="182.525" width="3.75" height="3.75" fill="#f3b054" stroke="#b96d1e" stroke-width="0.75"/>
<rect x="226.725" y="182.525" width="3.75" height="3.75" fill="#fbd47d" stroke="#bf832d" stroke-width="0.75"/>
<rect x="91.725" y="186.275" width="3.75" height="3.75" fill="#fbd47d" stroke="#bf832d" stroke-width="0.75"/>
<rect x="95.475" y="186.275" width="3.75" height="3.75" fill="#fbd47d" stroke="#bf832d" stroke-width="0.75"/>
<rect x="99.225" y="186.275" width="3.75" height="3.75" fill="#f2ac50" stroke="#b86b1d" stroke-width="0.75"/>
<rect x="102.975" y="186.275" width="3.75" height="3.75" fill="#facd72" stroke="#be7f29" stroke-width="0.75"/>
<rect x="222.975" y="186.275" width="3.75" height="3.75" fill="#facd72" stroke="#be7f29" stroke-width="0.75"/>
<rect x="226.725" y="186.275" width="3.75" height="3.75" fill="#f2ac50" stroke="#b86b1d" stroke-width="0.75"/>
<rect x="230.475" y="186.275" width="3.75" height="3.75" fill="#fbd47d" stroke="#bf832d" stroke-width="0.75"/>
<rect x="234.225" y="186.275" width="3.75" height="3.75" fill="#fbd47d" stroke="#bf832d" stroke-width="0.75"/>
<rect x="84.225" y="190.025" width="3.75" height="3.75" fill="#fcd883" stroke="#c0862f" stroke-width="0.75"/>
<rect x="87.975" y="190.025" width="3.75" height="3.75" fill="#f9ca6d" stroke="#bd7d27" stroke-width="0.75"/>
<rect x="91.725" y="190.025" width="3.75" height="3.75" fill="#f4b558" stroke="#b97020" stroke-width="0.75"/>
<rect x="95.475" y="190.025" width="3.75" height="3.75" fill="#f3ae52" stroke="#b96c1e" stroke-width="0.75"/>
<rect x="99.225" y="190.025" width="3.75" height="3.75" fill="#facd72" stroke="#be7f29" stroke-width="0.75"/>
<rect x="226.725" y="190.025" width="3.75" height="3.75" fill="#facd72" stroke="#be7f29" stroke-width="0.75"/>
<rect x="230.475" y="190.025" width="3.75" height="3.75" fill="#f3ae52" stroke="#b96c1e" stroke-width="0.75"/>
<rect x="234.225" y="190.025" width="3.75" height="3.75" fill="#f4b558" stroke="#b97020" stroke-width="0.75"/>
<rect x="237.975" y="190.025" width="3.75" height="3.75" fill="#f9ca6d" stroke="#bd7d27" stroke-width="0.75"/>
<rect x="241.725" y="190.025" width="3.75" height="3.75" fill="#fcd883" stroke="#c0862f" stroke-width="0.75"/>
<rect x="76.725" y="193.775" width="3.75" height="3.75" fill="#fee396" stroke="#c18d36" stroke-width="0.75"/>
<rect x="80.475" y="193.775" width="3.75" height="3.75" fill="#fbd47d" stroke="#bf832d" stroke-width="0.75"/>
<rect x="84.225" y="193.775" width="3.75" height="3.75" fill="#f9ca6d" stroke="#bd7d27" stroke-width="0.75"/>
<rect x="87.975" y="193.775" width="3.75" height="3.75" fill="#f5b95c" stroke="#ba7321" stroke-width="0.75"/>
<rect x="91.725" y="193.775" width="3.75" height="3.75" fill="#f8c669" stroke="#bc7b26" stroke-width="0.75"/>
<rect x="95.475" y="193.775" width="3.75" height="3.75" fill="#fad178" stroke="#be822b" stroke-width="0.75"/>
<rect x="230.475" y="193.775" width="3.75" height="3.75" fill="#fad178" stroke="#be822b" stroke-width="0.75"/>
<rect x="234.225" y="193.775" width="3.75" height="3.75" fill="#f8c669" stroke="#bc7b26" stroke-width="0.75"/>
<rect x="237.975" y="193.775" width="3.75" height="3.75" fill="#f5b95c" stroke="#ba7321" stroke-width="0.75"/>
<rect x="241.725" y="193.775" width="3.75" height="3.75" fill="#f9ca6d" stroke="#bd7d27" stroke-width="0.75"/>
<rect x="245.475" y="193.775" width="3.75" height="3.75" fill="#fbd47d" stroke="#bf832d" stroke-width="0.75"/>
<rect x="249.225" y="193.775" width="3.75" height="3.75" fill="#fee396" stroke="#c18d36" stroke-width="0.75"/>
<rect x="69.225" y="197.525" width="3.75" height="3.75" fill="#ffeda7" stroke="#c2933c" stroke-width="0.75"/>
<rect x="72.975" y="197.525" width="3.75" height="3.75" fill="#ffeca4" stroke="#c2923b" stroke-width="0.75"/>
<rect x="76.725" y="197.525" width="3.75" height="3.75" fill="#fddf90" stroke="#c08a34" stroke-width="0.75"/>
<rect x="80.475" y="197.525" width="3.75" height="3.75" fill="#facd72" stroke="#be7f29" stroke-width="0.75"/>
<rect x="84.225" y="197.525" width="3.75" height="3.75" fill="#f7c264" stroke="#bc7824" stroke-width="0.75"/>
<rect x="91.725" y="197.525" width="3.75" height="3.75" fill="#fad178" stroke="#be822b" stroke-width="0.75"/>
<rect x="234.225" y="197.525" width="3.75" height="3.75" fill="#fad178" stroke="#be822b" stroke-width="0.75"/>
<rect x="241.725" y="197.525" width="3.75" height="3.75" fill="#f7c264" stroke="#bc7824" stroke-width="0.75"/>
<rect x="245.475" y="197.525" width="3.75" height="3.75" fill="#facd72" stroke="#be7f29" stroke-width="0.75"/>
<rect x="249.225" y="197.525" width="3.75" height="3.75" fill="#fddf90" stroke="#c08a34" stroke-width="0.75"/>
<rect x="252.975" y="197.525" width="3.75" height="3.75" fill="#ffeca4" stroke="#c2923b" stroke-width="0.75"/>
<rect x="256.725" y="197.525" width="3.75" height="3.75" fill="#ffeda7" stroke="#c2933c" stroke-width="0.75"/>
<rect x="50.475" y="201.275" width="3.75" height="3.75" fill="#fff0ac" stroke="#c2953e" stroke-width="0.75"/>
<rect x="54.225" y="201.275" width="3.75" height="3.75" fill="#fff0ac" stroke="#c2953e" stroke-width="0.75"/>
<rect x="57.975" y="201.275" width="3.75" height="3.75" fill="#fff0ac" stroke="#c2953e" stroke-width="0.75"/>
<rect x="61.725" y="201.275" width="3.75" height="3.75" fill="#fff0ac" stroke="#c2953e" stroke-width="0.75"/>
<rect x="65.475" y="201.275" width="3.75" height="3.75" fill="#fff0ac" stroke="#c2953e" stroke-width="0.75"/>
<rect x="69.225" y="201.275" width="3.75" height="3.75" fill="#fff0ac" stroke="#c2953e" stroke-width="0.75"/>
<rect x="72.975" y="201.275" width="3.75" height="3.75" fill="#fff0ac" stroke="#c2953e" stroke-width="0.75"/>
<rect x="76.725" y="201.275" width="3.75" height="3.75" fill="#fee396" stroke="#c18d36" stroke-width="0.75"/>
<rect x="80.475" y="201.275" width="3.75" height="3.75" fill="#fad178" stroke="#be822b" stroke-width="0.75"/>
<rect x="84.225" y="201.275" width="3.75" height="3.75" fill="#f8c669" stroke="#bc7b26" stroke-width="0.75"/>
<rect x="87.975" y="201.275" width="3.75" height="3.75" fill="#facd72" stroke="#be7f29" stroke-width="0.75"/>
<rect x="237.975" y="201.275" width="3.75" height="3.75" fill="#facd72" stroke="#be7f29" stroke-width="0.75"/>
<rect x="241.725" y="201.275" width="3.75" height="3.75" fill="#f8c669" stroke="#bc7b26" stroke-width="0.75"/>
<rect x="245.475" y="201.275" width="3.75" height="3.75" fill="#fad178" stroke="#be822b" stroke-width="0.75"/>
<rect x="249.225" y="201.275" width="3.75" height="3.75" fill="#fee396" stroke="#c18d36" stroke-width="0.75"/>
<rect x="252.975" y="201.275" width="3.75" height="3.75" fill="#fff0ac" stroke="#c2953e" stroke-width="0.75"/>
<rect x="256.725" y="201.275" width="3.75" height="3.75" fill="#fff0ac" stroke="#c2953e" stroke-width="0.75"/>
<rect x="260.475" y="201.275" width="3.75" height="3.75" fill="#fff0ac" stroke="#c2953e" stroke-width="0.75"/>
<rect x="264.225" y="201.275" width="3.75" height="3.75" fill="#fff0ac" stroke="#c2953e" stroke-width="0.75"/>
<rect x="267.975" y="201.275" width="3.75" height="3.75" fill="#fff0ac" stroke="#c2953e" stroke-width="0.75"/>
<rect x="271.725" y="201.275" width="3.75" height="3.75" fill="#fff0ac" stroke="#c2953e" stroke-width="0.75"/>
<rect x="275.475" y="201.275" width="3.75" height="3.75" fill="#fff0ac" stroke="#c2953e" stroke-width="0.75"/>
<rect x="50.475" y="205.025" width="3.75" height="3.75" fill="#fff0ac" stroke="#c2953e" stroke-width="0.75"/>
<rect x="54.225" y="205.025" width="3.75" height="3.75" fill="#fff0ac" stroke="#c2953e" stroke-width="0.75"/>
<rect x="57.975" y="205.025" width="3.75" height="3.75" fill="#fff0ac" stroke="#c2953e" stroke-width="0.75"/>
<rect x="61.725" y="205.025" width="3.75" height="3.75" fill="#fff0ac" stroke="#c2953e" stroke-width="0.75"/>
<rect x="65.475" y="205.025" width="3.75" height="3.75" fill="#fff0ac" stroke="#c2953e" stroke-width="0.75"/>
<rect x="69.225" y="205.025" width="3.75" height="3.75" fill="#fff0ac" stroke="#c2953e" stroke-width="0.75"/>
<rect x="72.975" y="205.025" width="3.75" height="3.75" fill="#fff0ac" stroke="#c2953e" stroke-width="0.75"/>
<rect x="76.725" y="205.025" width="3.75" height="3.75" fill="#fee79c" stroke="#c18f38" stroke-width="0.75"/>
<rect x="80.475" y="205.025" width="3.75" height="3.75" fill="#fcd883" stroke="#c0862f" stroke-width="0.75"/>
<rect x="84.225" y="205.025" width="3.75" height="3.75" fill="#facd72" stroke="#be7f29" stroke-width="0.75"/>
<rect x="241.725" y="205.025" width="3.75" height="3.75" fill="#facd72" stroke="#be7f29" stroke-width="0.75"/>
<rect x="245.475" y="205.025" width="3.75" height="3.75" fill="#fcd883" stroke="#c0862f" stroke-width="0.75"/>
<rect x="249.225" y="205.025" width="3.75" height="3.75" fill="#fee79c" stroke="#c18f38" stroke-width="0.75"/>
<rect x="252.975" y="205.025" width="3.75" height="3.75" fill="#fff0ac" stroke="#c2953e" stroke-width="0.75"/>
<rect x="256.725" y="205.025" width="3.75" height="3.75" fill="#fff0ac" stroke="#c2953e" stroke-width="0.75"/>
<rect x="260.475" y="205.025" width="3.75" height="3.75" fill="#fff0ac" stroke="#c2953e" stroke-width="0.75"/>
<rect x="264.225" y="205.025" width="3.75" height="3.75" fill="#fff0ac" stroke="#c2953e" stroke-width="0.75"/>
<rect x="267.975" y="205.025" width="3.75" height="3.75" fill="#fff0ac" stroke="#c2953e" stroke-width="0.75"/>
<rect x="271.725" y="205.025" width="3.75" height="3.75" fill="#fff0ac" stroke="#c2953e" stroke-width="0.75"/>
<rect x="275.475" y="205.025" width="3.75" height="3.75" fill="#fff0ac" stroke="#c2953e" stroke-width="0.75"/>
<rect x="50.475" y="208.775" width="3.75" height="3.75" fill="#fff0ac" stroke="#c2953e" stroke-width="0.75"/>
<rect x="54.225" y="208.775" width="3.75" height="3.75" fill="#fff0ac" stroke="#c2953e" stroke-width="0.75"/>
<rect x="57.975" y="208.775" width="3.75" height="3.75" fill="#fff0ac" stroke="#c2953e" stroke-width="0.75"/>
<rect x="61.725" y="208.775" width="3.75" height="3.75" fill="#fff0ac" stroke="#c2953e" stroke-width="0.75"/>
<rect x="65.475" y="208.775" width="3.75" height="3.75" fill="#fff0ac" stroke="#c2953e" stroke-width="0.75"/>
<rect x="69.225" y="208.775" width="3.75" height="3.75" fill="#fff0ac" stroke="#c2953e" stroke-width="0.75"/>
<rect x="72.975" y="208.775" width="3.75" height="3.75" fill="#fff0ac" stroke="#c2953e" stroke-width="0.75"/>
<rect x="76.725" y="208.775" width="3.75" height="3.75" fill="#fff0ac" stroke="#c2953e" stroke-width="0.75"/>
<rect x="249.225" y="208.775" width="3.75" height="3.75" fill="#fff0ac" stroke="#c2953e" stroke-width="0.75"/>
<rect x="252.975" y="208.775" width="3.75" height="3.75" fill="#fff0ac" stroke="#c2953e" stroke-width="0.75"/>
<rect x="256.725" y="208.775" width="3.75" height="3.75" fill="#fff0ac" stroke="#c2953e" stroke-width="0.75"/>
<rect x="260.475" y="208.775" width="3.75" height="3.75" fill="#fff0ac" stroke="#c2953e" stroke-width="0.75"/>
<rect x="264.225" y="208.775" width="3.75" height="3.75" fill="#fff0ac" stroke="#c2953e" stroke-width="0.75"/>
<rect x="267.975" y="208.775" width="3.75" height="3.75" fill="#fff0ac" stroke="#c2953e" stroke-width="0.75"/>
<rect x="271.725" y="208.775" width="3.75" height="3.75" fill="#fff0ac" stroke="#c2953e" stroke-width="0.75"/>
<rect x="275.475" y="208.775" width="3.75" height="3.75" fill="#fff0ac" stroke="#c2953e" stroke-width="0.75"/>
<rect x="50.475" y="212.525" width="3.75" height="3.75" fill="#fff0ac" stroke="#c2953e" stroke-width="0.75"/>
<rect x="54.225" y="212.525" width="3.75" height="3.75" fill="#fff0ac" stroke="#c2953e" stroke-width="0.75"/>
<rect x="57.975" y="212.525" width="3.75" height="3.75" fill="#fff0ac" stroke="#c2953e" stroke-width="0.75"/>
<rect x="61.725" y="212.525" width="3.75" height="3.75" fill="#fff0ac" stroke="#c2953e" stroke-width="0.75"/>
<rect x="65.475" y="212.525" width="3.75" height="3.75" fill="#fff0ac" stroke="#c2953e" stroke-width="0.75"/>
<rect x="69.225" y="212.525" width="3.75" height="3.75" fill="#fff0ac" stroke="#c2953e" stroke-width="0.75"/>
<rect x="72.975" y="212.525" width="3.75" height="3.75" fill="#fff0ac" stroke="#c2953e" stroke-width="0.75"/>
<rect x="252.975" y="212.525" width="3.75" height="3.75" fill="#fff0ac" stroke="#c2953e" stroke-width="0.75"/>
<rect x="256.725" y="212.525" width="3.75" height="3.75" fill="#fff0ac" stroke="#c2953e" stroke-width="0.75"/>
<rect x="260.475" y="212.525" width="3.75" height="3.75" fill="#fff0ac" stroke="#c2953e" stroke-width="0.75"/>
<rect x="264.225" y="212.525" width="3.75" height="3.75" fill="#fff0ac" stroke="#c2953e" stroke-width="0.75"/>
<rect x="267.975" y="212.525" width="3.75" height="3.75" fill="#fff0ac" stroke="#c2953e" stroke-width="0.75"/>
<rect x="271.725" y="212.525" width="3.75" height="3.75" fill="#fff0ac" stroke="#c2953e" stroke-width="0.75"/>
<rect x="275.475" y="212.525" width="3.75" height="3.75" fill="#fff0ac" stroke="#c2953e" stroke-width="0.75"/>
<rect x="50.475" y="216.275" width="3.75" height="3.75" fill="#fff0ac" stroke="#c2953e" stroke-width="0.75"/>
<rect x="54.225" y="216.275" width="3.75" height="3.75" fill="#fff0ac" stroke="#c2953e" stroke-width="0.75"/>
<rect x="57.975" y="216.275" width="3.75" height="3.75" fill="#fff0ac" stroke="#c2953e" stroke-width="0.75"/>
<rect x="61.725" y="216.275" width="3.75" height="3.75" fill="#fff0ac" stroke="#c2953e" stroke-width="0.75"/>
<rect x="65.475" y="216.275" width="3.75" height="3.75" fill="#fff0ac" stroke="#c2953e" stroke-width="0.75"/>
<rect x="69.225" y="216.275" width="3.75" height="3.75" fill="#fff0ac" stroke="#c2953e" stroke-width="0.75"/>
<rect x="256.725" y="216.275" width="3.75" height="3.75" fill="#fff0ac" stroke="#c2953e" stroke-width="0.75"/>
<rect x="260.475" y="216.275" width="3.75" height="3.75" fill="#fff0ac" stroke="#c2953e" stroke-width="0.75"/>
<rect x="264.225" y="216.275" width="3.75" height="3.75" fill="#fff0ac" stroke="#c2953e" stroke-width="0.75"/>
<rect x="267.975" y="216.275" width="3.75" height="3.75" fill="#fff0ac" stroke="#c2953e" stroke-width="0.75"/>
<rect x="271.725" y="216.275" width="3.75" height="3.75" fill="#fff0ac" stroke="#c2953e" stroke-width="0.75"/>
<rect x="275.475" y="216.275" width="3.75" height="3.75" fill="#fff0ac" stroke="#c2953e" stroke-width="0.75"/>
<rect x="50.475" y="220.025" width="3.75" height="3.75" fill="#fff0ac" stroke="#c2953e" stroke-width="0.75"/>
<rect x="54.225" y="220.025" width="3.75" height="3.75" fill="#fff0ac" stroke="#c2953e" stroke-width="0.75"/>
<rect x="57.975" y="220.025" width="3.75" height="3.75" fill="#fff0ac" stroke="#c2953e" stroke-width="0.75"/>
<rect x="61.725" y="220.025" width="3.75" height="3.75" fill="#fff0ac" stroke="#c2953e" stroke-width="0.75"/>
<rect x="264.225" y="220.025" width="3.75" height="3.75" fill="#fff0ac" stroke="#c2953e" stroke-width="0.75"/>
<rect x="267.975" y="220.025" width="3.75" height="3.75" fill="#fff0ac" stroke="#c2953e" stroke-width="0.75"/>
<rect x="271.725" y="220.025" width="3.75" height="3.75" fill="#fff0ac" stroke="#c2953e" stroke-width="0.75"/>
<rect x="275.475" y="220.025" width="3.75" height="3.75" fill="#fff0ac" stroke="#c2953e" stroke-width="0.75"/>
<rect x="50.475" y="223.775" width="3.75" height="3.75" fill="#fff0ac" stroke="#c2953e" stroke-width="0.75"/>
<rect x="54.225" y="223.775" width="3.75" height="3.75" fill="#fff0ac" stroke="#c2953e" stroke-width="0.75"/>
<rect x="271.725" y="223.775" width="3.75" height="3.75" fill="#fff0ac" stroke="#c2953e" stroke-width="0.75"/>
<rect x="275.475" y="223.775" width="3.75" height="3.75" fill="#fff0ac" stroke="#c2953e" stroke-width="0.75"/>
</g>
<path d="M52.35 19.4L277.35 244.4M277.35 19.4L52.35 244.4M164.85000000000002 19.4L277.35 131.9" stroke="#050d24" stroke-width="1.35" stroke-dasharray="3.8 2.7" fill="none"/>
</g>
<rect x="47.6" y="14.8" width="234.00000000000003" height="233.2" fill="none" stroke="#4a4a4a" stroke-width="1"/>
<path d="M62.25 248.0v-2.6M62.25 14.8v2.6M47.6 234.50h2.6M281.6 234.50h-2.6M75.08 248.0v-1.5M75.08 14.8v1.5M47.6 221.68h1.5M281.6 221.68h-1.5M87.90 248.0v-1.5M87.90 14.8v1.5M47.6 208.85h1.5M281.6 208.85h-1.5M100.73 248.0v-1.5M100.73 14.8v1.5M47.6 196.03h1.5M281.6 196.03h-1.5M113.55 248.0v-2.6M113.55 14.8v2.6M47.6 183.20h2.6M281.6 183.20h-2.6M126.38 248.0v-1.5M126.38 14.8v1.5M47.6 170.38h1.5M281.6 170.38h-1.5M139.20 248.0v-1.5M139.20 14.8v1.5M47.6 157.55h1.5M281.6 157.55h-1.5M152.03 248.0v-1.5M152.03 14.8v1.5M47.6 144.72h1.5M281.6 144.72h-1.5M164.85 248.0v-2.6M164.85 14.8v2.6M47.6 131.90h2.6M281.6 131.90h-2.6M177.68 248.0v-1.5M177.68 14.8v1.5M47.6 119.08h1.5M281.6 119.08h-1.5M190.50 248.0v-1.5M190.50 14.8v1.5M47.6 106.25h1.5M281.6 106.25h-1.5M203.33 248.0v-1.5M203.33 14.8v1.5M47.6 93.42h1.5M281.6 93.42h-1.5M216.15 248.0v-2.6M216.15 14.8v2.6M47.6 80.60h2.6M281.6 80.60h-2.6M228.98 248.0v-1.5M228.98 14.8v1.5M47.6 67.78h1.5M281.6 67.78h-1.5M241.80 248.0v-1.5M241.80 14.8v1.5M47.6 54.95h1.5M281.6 54.95h-1.5M254.63 248.0v-1.5M254.63 14.8v1.5M47.6 42.12h1.5M281.6 42.12h-1.5M267.45 248.0v-2.6M267.45 14.8v2.6M47.6 29.30h2.6M281.6 29.30h-2.6" stroke="#4a4a4a" stroke-width="0.9" fill="none"/>
<g font-family="Liberation Sans, Arial, sans-serif" font-size="10.4" fill="#3a3a3a">
<text x="43.9" y="238.20" text-anchor="end">0.4</text>
<text x="19.9" y="238.20">−</text>
<text x="43.9" y="186.90" text-anchor="end">0.2</text>
<text x="19.9" y="186.90">−</text>
<text x="43.9" y="135.60" text-anchor="end">0.0</text>
<text x="43.9" y="84.30" text-anchor="end">0.2</text>
<text x="43.9" y="33.00" text-anchor="end">0.4</text>
<text x="58.65" y="260.9">0.4</text>
<text x="50.25" y="260.9">−</text>
<text x="109.95" y="260.9">0.2</text>
<text x="101.55" y="260.9">−</text>
<text x="164.85" y="260.9" text-anchor="middle">0.0</text>
<text x="216.15" y="260.9" text-anchor="middle">0.2</text>
<text x="267.45" y="260.9" text-anchor="middle">0.4</text>
</g>
<g font-family="Liberation Sans, Arial, sans-serif" fill="#3a3a3a" font-style="italic">
<text x="157.8" y="276" font-size="11.5">k<tspan font-size="8.5" dx="0.6" dy="3">x</tspan></text>
<text transform="translate(11,138) rotate(-90)" font-size="11.5">k<tspan font-size="8.5" dx="0.6" dy="3">y</tspan></text>
</g>
<g font-family="Liberation Sans, Arial, sans-serif" font-size="10.1" fill="#333">
<text x="42.1" y="10.5" textLength="36.1" lengthAdjust="spacingAndGlyphs" >Contour</text>
<text x="84.5" y="10.5" textLength="17.0" lengthAdjust="spacingAndGlyphs" >plot</text>
<text x="107.9" y="10.5" textLength="7.9" lengthAdjust="spacingAndGlyphs" >of</text>
<text x="122.5" y="10.5" textLength="6.7" lengthAdjust="spacingAndGlyphs" >Δ</text>
<text x="129.6" y="12.8" font-size="8" font-style="italic" font-weight="bold">k</text>
<text x="135.8" y="10.5" textLength="3.4" lengthAdjust="spacingAndGlyphs" >/</text>
<text x="140.2" y="10.5" textLength="3.2" lengthAdjust="spacingAndGlyphs" font-style="italic">t</text>
<text x="151.8" y="10.5" textLength="6.5" lengthAdjust="spacingAndGlyphs" >in</text>
<text x="163.8" y="10.5" textLength="14.0" lengthAdjust="spacingAndGlyphs" >the</text>
<text x="182.8" y="10.5" textLength="18.2" lengthAdjust="spacingAndGlyphs" >1BZ</text>
<text x="206.8" y="10.5" textLength="7.0" lengthAdjust="spacingAndGlyphs" >at</text>
<text x="222" y="10.5" textLength="5.8" lengthAdjust="spacingAndGlyphs" font-style="italic">x</text>
<text x="233.6" y="10.5" textLength="5.6" lengthAdjust="spacingAndGlyphs" >=</text>
<text x="244.4" y="10.5" textLength="43.0" lengthAdjust="spacingAndGlyphs" >0.242556</text>
</g>
<defs><linearGradient id="cb" x1="0" y1="1" x2="0" y2="0">
<stop offset="0.0000" stop-color="#1c4585"/>
<stop offset="0.1064" stop-color="#34568f"/>
<stop offset="0.2128" stop-color="#556894"/>
<stop offset="0.3191" stop-color="#857b88"/>
<stop offset="0.4255" stop-color="#b8906a"/>
<stop offset="0.5319" stop-color="#dda055"/>
<stop offset="0.6383" stop-color="#eda84e"/>
<stop offset="0.7447" stop-color="#f7bd68"/>
<stop offset="0.8511" stop-color="#fcd68e"/>
<stop offset="0.9574" stop-color="#fee8b4"/>
<stop offset="1.0000" stop-color="#fff0c6"/>
</linearGradient></defs>
<rect x="303.8" y="63.0" width="10.699999999999989" height="144.8" fill="url(#cb)" stroke="#5a4a30" stroke-opacity="0.45" stroke-width="0.5"/>
<g font-family="Liberation Sans, Arial, sans-serif" font-size="7.6" fill="#666">
<path d="M314.5 208.20h-2" stroke="#888" stroke-width="0.5"/>
<text x="319.2" y="211.30">0</text>
<path d="M314.5 177.35h-2" stroke="#888" stroke-width="0.5"/>
<text x="319.2" y="180.45">2000</text>
<path d="M314.5 146.50h-2" stroke="#888" stroke-width="0.5"/>
<text x="319.2" y="149.60">4000</text>
<path d="M314.5 115.65h-2" stroke="#888" stroke-width="0.5"/>
<text x="319.2" y="118.75">6000</text>
<path d="M314.5 84.80h-2" stroke="#888" stroke-width="0.5"/>
<text x="319.2" y="87.90">8000</text>
</g>
</svg>
</body></html>
